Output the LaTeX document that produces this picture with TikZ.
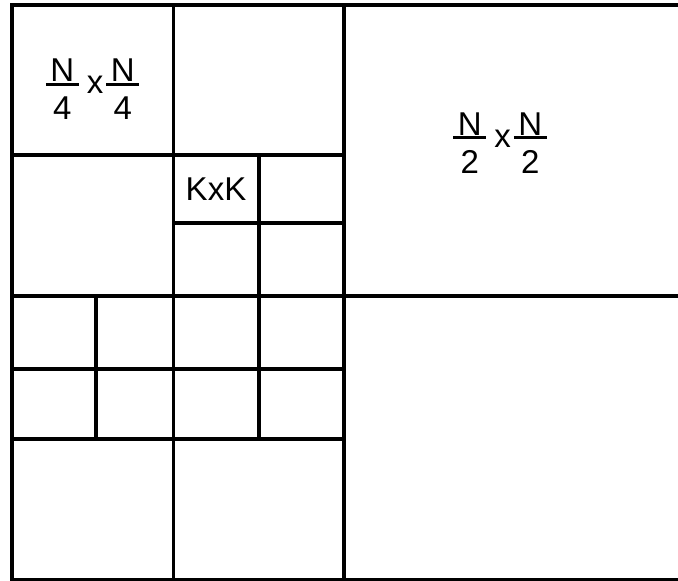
\documentclass[tikz,border=0pt]{standalone}
\usepackage{fontspec}
\setmainfont{Liberation Sans}
% stacked fraction with a thick bar
\newcommand{\sizefrac}[2]{\raisebox{-26.3pt}{\vbox{\offinterlineskip
  \halign{\hfil##\hfil\cr #1\cr\noalign{\kern1pt}\rule{33pt}{2.8pt}\cr
  \noalign{\kern11pt}#2\cr}}}}

\begin{document}
\begin{tikzpicture}[x=1pt, y=-1pt,
  grid/.style={line width=3.5pt, black},
  lbl/.style={font=\fontsize{33}{40}\selectfont, inner sep=0pt, anchor=base}]
  \useasboundingbox (0,0) rectangle (678,581);
  \clip (0,0) rectangle (678,581);
  % outer frame and quadrants
  \draw[grid] (690,5) -- (12,5) -- (12,580) -- (690,580);
  \draw[grid] (344,5) -- (344,580);
  \draw[grid] (12,296) -- (690,296);
  % top-left quadrant
  \draw[grid] (173.5,5) -- (173.5,580);
  \draw[grid] (12,155) -- (344,155);
  \draw[grid] (173.5,223) -- (344,223);
  \draw[grid] (259,153) -- (259,439);
  % bottom-left quadrant
  \draw[grid] (12,369) -- (344,369);
  \draw[grid] (12,439) -- (344,439);
  \draw[grid] (96,296) -- (96,439);
  % labels
  \node[lbl] (quarter) at (92.5,93) {\sizefrac{N}{4}\hspace{8pt}x\hspace{3pt}\sizefrac{N}{4}};
  \node[lbl] (half) at (500,147) {\sizefrac{N}{2}\hspace{8pt}x\hspace{3pt}\sizefrac{N}{2}};
  \node[lbl] (block) at (216,200) {KxK};
\end{tikzpicture}
\end{document}
